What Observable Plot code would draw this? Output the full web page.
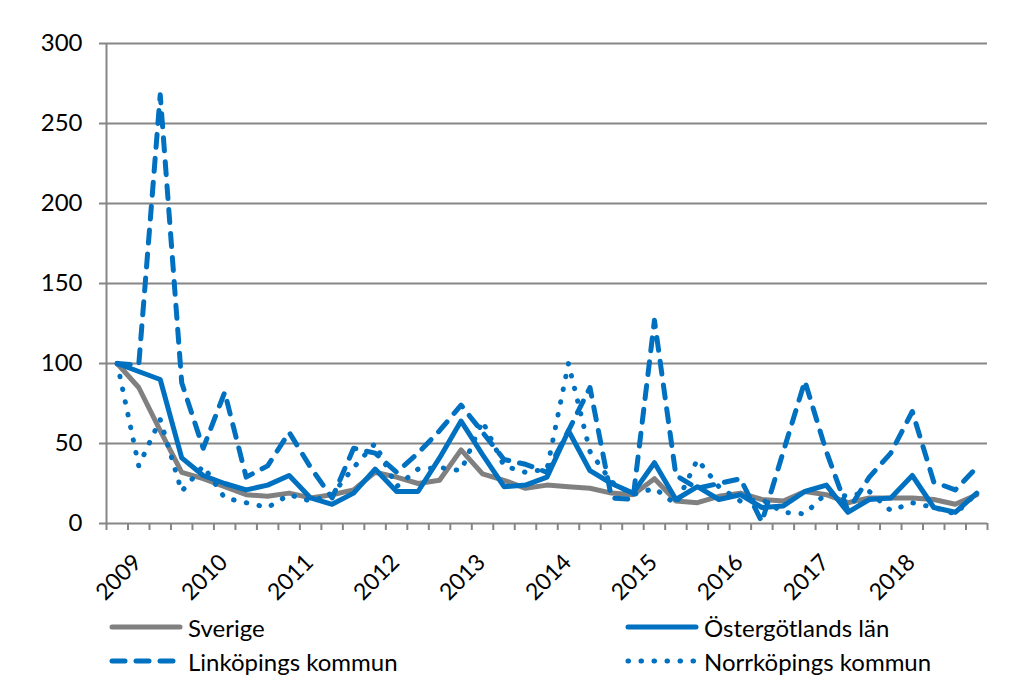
<!DOCTYPE html>
<html><head><meta charset="utf-8">
<script src="https://cdn.jsdelivr.net/npm/d3@7"></script>
<script src="https://cdn.jsdelivr.net/npm/@observablehq/plot@0.6"></script>
<style>
body{margin:0;background:#fff;}
#wrap{position:relative;width:1021px;height:684px;font-family:Lato, sans-serif;overflow:hidden;}
.item{position:absolute;display:flex;align-items:center;height:30px;font-size:24px;color:#000;white-space:nowrap;}
.item svg{margin-right:4px;}
</style></head><body><div id="wrap"><div id="chart"></div></div>
<script>
// Quarterly index, 2009 Q1 .. 2019 Q1 (41 quarters)
const years = [2009, 2010, 2011, 2012, 2013, 2014, 2015, 2016, 2017, 2018];
const yTicks = [0, 50, 100, 150, 200, 250, 300];
const seriesNames = ["Sverige", "Östergötlands län", "Linköpings kommun", "Norrköpings kommun"];
const sverige      = [100, 85, 58, 32, 28, 23, 18, 17, 19, 16, 18, 21, 32, 29, 25, 27, 46, 31, 27, 22, 24, 23, 22, 19, 18, 28, 14, 13, 17, 19, 15, 14, 20, 18, 13, 16, 16, 16, 15, 12, 18];
const ostergotland = [100, 95, 90, 41, 30, 25, 21, 24, 30, 16, 12, 19, 34, 20, 20, 41, 64, 43, 23, 24, 29, 58, 33, 25, 19, 38, 15, 23, 15, 18, 10, 11, 20, 24, 7, 15, 16, 30, 10, 7, 19];
const linkoping    = [100, 99, 268, 88, 47, 82, 29, 36, 57, 35, 16, 47, 44, 32, 44, 58, 74, 57, 40, 37, 32, 58, 85, 16, 15, 127, 30, 22, 25, 28, 1, 45, 89, 45, 8, 29, 44, 70, 26, 21, 35];
const norrkoping   = [100, 36, 65, 20, 36, 16, 13, 10, 18, 14, 18, 35, 50, 23, 34, 35, 33, 64, 36, 32, 34, 100, 45, 26, 18, 22, 12, 40, 23, 14, 15, 7, 6, 19, 17, 20, 8, 13, 10, 6, 19];

const seriesValues = [sverige, ostergotland, linkoping, norrkoping];
const nQ = sverige.length;
const styles = [
  {stroke: "#808080", strokeWidth: 5, strokeDasharray: null},
  {stroke: "#0070c0", strokeWidth: 5, strokeDasharray: null},
  {stroke: "#0070c0", strokeWidth: 5, strokeDasharray: "13,11"},
  {stroke: "#0070c0", strokeWidth: 5, strokeDasharray: "0.5,12.5"}
];
const grid = "#868686";

const lineMarks = seriesNames.map((name, s) => {
  const rows = seriesValues[s].map((v, i) => ({name, i: i + 0.5, v}));
  const st = styles[s];
  const o = {x: "i", y: "v", stroke: st.stroke, strokeWidth: st.strokeWidth, strokeLinecap: "round", strokeLinejoin: "round"};
  if (st.strokeDasharray) o.strokeDasharray = st.strokeDasharray;
  return Plot.line(rows, o);
});

const labelShift = 1.45;
const yearPos = years.map((y, k) => 4 * k + labelShift);

const chart = Plot.plot({
  width: 1021, height: 605,
  marginLeft: 106, marginRight: 34, marginTop: 43, marginBottom: 82,
  x: {domain: [0, nQ], label: null},
  y: {domain: [0, 300], label: null},
  style: {fontFamily: "Lato, sans-serif", fontSize: "24px", color: "#000", background: "#fff", overflow: "visible"},
  marks: [
    Plot.gridY({ticks: yTicks.slice(1), stroke: grid, strokeOpacity: 1, strokeWidth: 2}),
    Plot.axisY({ticks: yTicks, tickSize: 7, tickPadding: 17, stroke: grid, strokeWidth: 2, label: null, fontSize: 24}),
    Plot.axisX({ticks: d3.range(nQ + 1), tickSize: 7, tickFormat: () => "", stroke: grid, strokeWidth: 2, label: null}),
    Plot.axisX({ticks: yearPos, tickSize: 0, tickRotate: -45, tickPadding: 35, tickFormat: d => String(years[Math.round((d - labelShift) / 4)]), label: null, fontSize: 23}),
    Plot.ruleY([0], {stroke: grid, strokeWidth: 2}),
    Plot.ruleX([0], {y1: 0, y2: 300, stroke: grid, strokeWidth: 2}),
    ...lineMarks
  ]
});
document.getElementById("chart").appendChild(chart);

// legend
const wrap = document.getElementById("wrap");
const legendPos = [[108, 612], [624, 612], [108, 646], [624, 646]];
seriesNames.forEach((name, s) => {
  const item = document.createElement("div");
  item.className = "item";
  item.style.left = legendPos[s][0] + "px";
  item.style.top = legendPos[s][1] + "px";
  const st = styles[s];
  const svg = d3.create("svg").attr("width", 76).attr("height", 14);
  svg.append("line").attr("x1", 4).attr("x2", 72).attr("y1", 7).attr("y2", 7)
    .attr("stroke", st.stroke).attr("stroke-width", st.strokeWidth)
    .attr("stroke-linecap", "round")
    .attr("stroke-dasharray", st.strokeDasharray);
  item.appendChild(svg.node());
  const t = document.createElement("span");
  t.textContent = name;
  item.appendChild(t);
  wrap.appendChild(item);
});
</script></body></html>
